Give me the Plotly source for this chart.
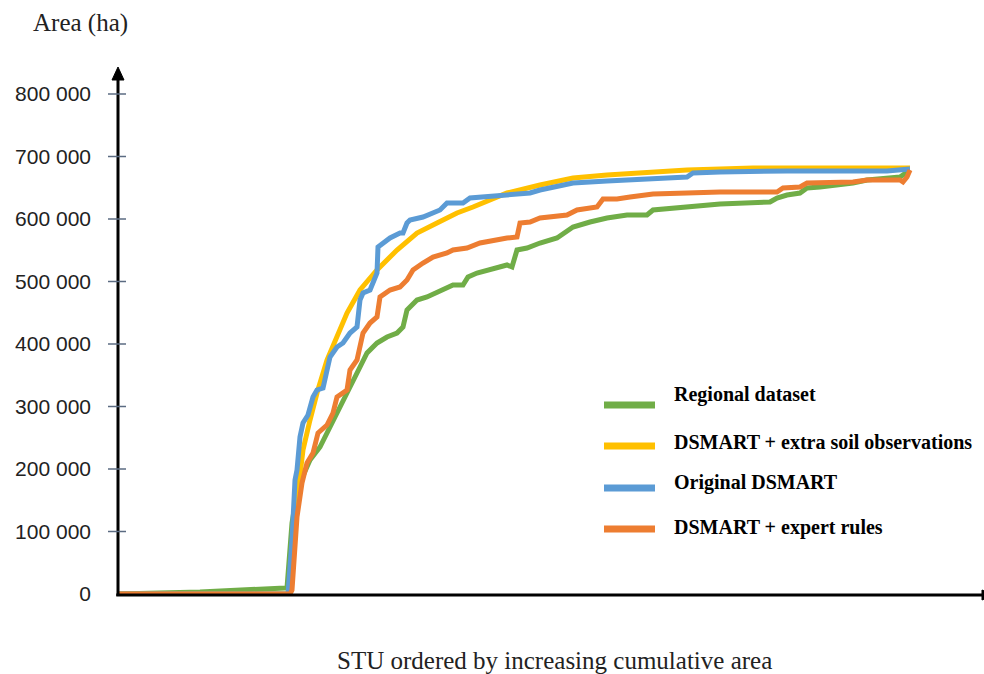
import plotly.graph_objects as go

# ---------------- data (STU rank, cumulative area in ha) ----------------
green_x = [0, 82, 167, 169, 174, 177, 184, 192, 202, 215, 224, 232, 242, 249, 259, 269, 279, 285, 289, 295,
           299, 309, 325, 335, 345, 350, 359, 389, 394, 399, 409, 422, 439, 449, 455, 472, 489, 509, 529,
           535, 569, 602, 652, 659, 669, 682, 689, 702, 735, 749, 782, 789, 792]
green_y = [0, 3200, 9600, 9600, 113600, 142400, 185600, 214400, 235200, 278400, 305600, 331200, 363200,
           385600, 401600, 411200, 417600, 427200, 454400, 465600, 470400, 475200, 486400, 494400, 494400,
           507200, 513600, 526400, 523200, 550400, 553600, 561600, 569600, 579200, 587200, 595200, 601600,
           606400, 606400, 614400, 619200, 624000, 627200, 633600, 638400, 641600, 649600, 651200, 657600,
           662400, 667200, 673600, 678400]

yellow_x = [0, 172, 179, 185, 192, 199, 209, 219, 229, 242, 259, 279, 299, 319, 339, 355, 389, 422, 455,
            489, 522, 569, 635, 792]
yellow_y = [0, 0, 150400, 230400, 278400, 321600, 374400, 411200, 449600, 486400, 518400, 550400, 577600,
            593600, 609600, 619200, 641600, 654400, 665600, 670400, 673600, 678400, 681600, 681600]

blue_x = [0, 170, 174, 177, 179, 182, 185, 190, 195, 199, 205, 209, 212, 219, 225, 232, 239, 242, 245, 252,
          255, 259, 260, 265, 272, 282, 285, 289, 292, 305, 315, 322, 329, 345, 352, 362, 389, 412, 422, 439,
          455, 489, 522, 569, 575, 602, 669, 769, 792]
blue_y = [0, 0, 86400, 182400, 198400, 251200, 273600, 286400, 315200, 326400, 329600, 363200, 379200,
          395200, 401600, 417600, 427200, 470400, 481600, 486400, 497600, 513600, 555200, 561600, 569600,
          577600, 577600, 593600, 598400, 603200, 609600, 614400, 625600, 625600, 633600, 635200, 638400,
          641600, 646400, 651200, 657600, 660800, 664000, 667200, 673600, 675200, 676800, 676800, 680000]

orange_x = [0, 172, 174, 179, 184, 189, 195, 200, 209, 215, 219, 229, 232, 239, 245, 252, 259, 262, 272,
            282, 289, 295, 305, 315, 329, 335, 349, 362, 389, 399, 402, 412, 422, 449, 459, 479, 485, 499,
            512, 535, 569, 602, 659, 665, 682, 689, 735, 749, 782, 785, 789, 792]
orange_y = [0, 0, 6400, 123200, 177600, 209600, 225600, 257600, 270400, 289600, 315200, 326400, 358400,
            374400, 417600, 433600, 443200, 475200, 486400, 491200, 502400, 518400, 529600, 539200, 545600,
            550400, 553600, 561600, 569600, 571200, 593600, 595200, 601600, 606400, 614400, 619200, 632000,
            632000, 635200, 640000, 641600, 643200, 643200, 649600, 651200, 657600, 659200, 662400, 662400,
            659200, 667200, 678400]

series_names = ["Regional dataset", "DSMART + extra soil observations", "Original DSMART",
                "DSMART + expert rules"]
tick_vals = [0, 100000, 200000, 300000, 400000, 500000, 600000, 700000, 800000]
tick_text = ["0", "100 000", "200 000", "300 000", "400 000", "500 000", "600 000", "700 000", "800 000"]

# ---------------- styling / layout ----------------
colors = {"green": "#70AD47", "yellow": "#FFC000", "blue": "#5B9BD5", "orange": "#ED7D31"}

W, H = 984, 674
L, T, B = 118, 67, 80
PW, PH = W - L, H - T - B
Y_MAX = PH * 1600      # 800 000 ha sits ~500 px above the baseline
X_MAX = PW


def px(x):
    return (x - L) / PW


def py(y):
    return (H - B - y) / PH


fig = go.Figure()
# draw order: green, yellow, blue, orange (orange on top)
for xs, ys, c, name in [
    (green_x, green_y, colors["green"], series_names[0]),
    (yellow_x, yellow_y, colors["yellow"], series_names[1]),
    (blue_x, blue_y, colors["blue"], series_names[2]),
    (orange_x, orange_y, colors["orange"], series_names[3]),
]:
    fig.add_trace(go.Scatter(x=xs, y=ys, mode="lines", name=name, showlegend=False,
                             line=dict(color=c, width=5), cliponaxis=False))

shapes = []
# y axis line + arrow
shapes.append(dict(type="line", xref="paper", yref="paper", x0=0, x1=0, y0=-0.004, y1=1 - 10 / PH,
                   line=dict(color="black", width=3)))
shapes.append(dict(type="path", xref="paper", yref="paper", xsizemode="pixel", ysizemode="pixel",
                   xanchor=0, yanchor=1, path="M -6 -13 L 6 -13 L 0 0 Z",
                   fillcolor="black", line=dict(color="black", width=1)))
# x axis line + arrow (cut at the window edge)
shapes.append(dict(type="line", xref="paper", yref="paper", x0=-0.002, x1=px(984), y0=py(595), y1=py(595),
                   line=dict(color="black", width=3)))
shapes.append(dict(type="path", xref="paper", yref="paper", xsizemode="pixel", ysizemode="pixel",
                   xanchor=px(982), yanchor=py(595), path="M 0 -5 L 0 5 L 12 0 Z",
                   fillcolor="black", line=dict(color="black", width=1)))
# tick marks crossing the y axis
for v in tick_vals[1:]:
    shapes.append(dict(type="line", xref="paper", yref="y", xsizemode="pixel", xanchor=0,
                       x0=-10, x1=8, y0=v, y1=v, line=dict(color="#5B6B82", width=1.5)))

# manual legend
legend_rows = [(405, 395), (446, 442), (488, 483), (529, 527)]
legend_colors = [colors["green"], colors["yellow"], colors["blue"], colors["orange"]]
annotations = []
for (ly, ty), c, name in zip(legend_rows, legend_colors, series_names):
    shapes.append(dict(type="line", xref="paper", yref="paper", x0=px(604), x1=px(655), y0=py(ly), y1=py(ly),
                       line=dict(color=c, width=7)))
    annotations.append(dict(xref="paper", yref="paper", x=px(672), y=py(ty), xanchor="left", yanchor="middle",
                            showarrow=False, text="<b>%s</b>" % name,
                            font=dict(family="Liberation Serif", size=20, color="black")))

annotations.append(dict(xref="paper", yref="paper", x=px(80), y=py(23), xanchor="center", yanchor="middle",
                        showarrow=False, text="Area (ha)",
                        font=dict(family="Liberation Serif", size=25, color="#222")))
annotations.append(dict(xref="paper", yref="paper", x=px(554), y=py(660), xanchor="center", yanchor="middle",
                        showarrow=False, text="STU ordered by increasing cumulative area",
                        font=dict(family="Liberation Serif", size=25, color="#222")))

fig.update_layout(
    width=W, height=H,
    margin=dict(l=L, r=0, t=T, b=B),
    plot_bgcolor="white", paper_bgcolor="white",
    xaxis=dict(range=[0, X_MAX], showgrid=False, zeroline=False, showline=False,
               showticklabels=False, ticks="", fixedrange=True),
    yaxis=dict(range=[0, Y_MAX], showgrid=False, zeroline=False, showline=False,
               tickvals=tick_vals, ticktext=tick_text, ticks="", ticklabelstandoff=26,
               tickfont=dict(family="Liberation Sans", size=21, color="#222"), fixedrange=True),
    shapes=shapes,
    annotations=annotations,
    showlegend=False,
)

fig.write_html("out.html", config={"displayModeBar": False},
               post_script="document.body.style.margin='0';document.body.style.overflow='hidden';")
